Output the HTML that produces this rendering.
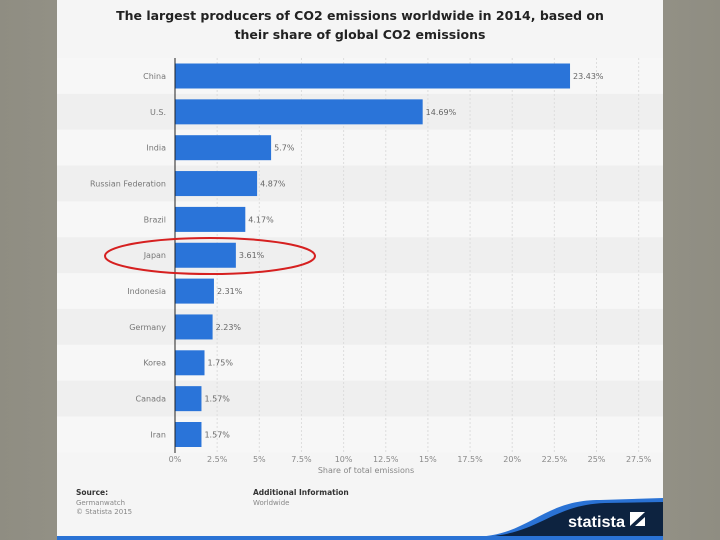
<!DOCTYPE html>
<html><head><meta charset="utf-8">
<style>
body{margin:0;width:720px;height:540px;overflow:hidden;background:linear-gradient(90deg,#8f8d82,#a3a196 50%,#8f8d82);font-family:"DejaVu Sans",sans-serif;}
#panel{position:absolute;left:57px;top:0;width:606px;height:540px;background:#f5f5f5;}
svg text{font-family:"DejaVu Sans",sans-serif;}
</style></head><body>
<div id="panel"></div>
<svg width="720" height="540" style="position:absolute;left:0;top:0">
<text x="360" y="20" text-anchor="middle" font-size="12.5" font-weight="bold" fill="#222">The largest producers of CO2 emissions worldwide in 2014, based on</text>
<text x="360" y="39" text-anchor="middle" font-size="12.5" font-weight="bold" fill="#222">their share of global CO2 emissions</text>
<g id="stripes"></g><g id="grid"></g><g id="bars"></g><g id="labels"></g><g id="xticks"></g>
<line x1="175" y1="58" x2="175" y2="453" stroke="#222" stroke-width="1"/>
<text x="366" y="473" text-anchor="middle" font-size="8" fill="#888">Share of total emissions</text>
<text x="76" y="495" font-size="7.5" font-weight="bold" fill="#333">Source:</text>
<text x="76" y="505" font-size="7" fill="#888">Germanwatch</text>
<text x="76" y="514" font-size="7" fill="#888">© Statista 2015</text>
<text x="253" y="495" font-size="7.5" font-weight="bold" fill="#333">Additional Information</text>
<text x="253" y="505" font-size="7" fill="#888">Worldwide</text>
<path d="M470 537 C530 537 540 500 600 500 L663 498 L663 537 Z" fill="#2a72d4"/>
<path d="M480 537 C540 535 550 505 605 503 L663 502 L663 537 Z" fill="#0d2340"/>
<rect x="57" y="536" width="606" height="4" fill="#2a72d4"/>
<text x="568" y="527" font-size="16" font-weight="bold" fill="#fff" textLength="57" lengthAdjust="spacingAndGlyphs" style="font-family:'Liberation Sans',sans-serif">statista</text>
<rect x="630" y="512" width="15" height="14" fill="#fff"/>
<path d="M630 526 L645 512 L645 517 L635 526 Z" fill="#0d2340"/>
<ellipse cx="210" cy="256" rx="105" ry="18" fill="none" stroke="#d62020" stroke-width="2"/>
</svg>
<script>
const categories=["China","U.S.","India","Russian Federation","Brazil","Japan","Indonesia","Germany","Korea","Canada","Iran"];
const values=[23.43,14.69,5.7,4.87,4.17,3.61,2.31,2.23,1.75,1.57,1.57];
const valueLabels=["23.43%","14.69%","5.7%","4.87%","4.17%","3.61%","2.31%","2.23%","1.75%","1.57%","1.57%"];
const ticks=[0,2.5,5,7.5,10,12.5,15,17.5,20,22.5,25,27.5];
const tickLabels=["0%","2.5%","5%","7.5%","10%","12.5%","15%","17.5%","20%","22.5%","25%","27.5%"];
const NS="http://www.w3.org/2000/svg";
const x=v=>175+v*16.86;
const rowTop=i=>58+i*35.85, rowH=35.85;
function mk(t,a,p){const e=document.createElementNS(NS,t);for(const k in a)e.setAttribute(k,a[k]);document.getElementById(p).appendChild(e);return e;}
categories.forEach((c,i)=>{
 const s=mk("rect",{x:57,y:rowTop(i),width:606,height:rowH,fill:i%2?"#efefef":"#f7f7f7"},"stripes");
 
 
 const b=mk("rect",{x:175,y:rowTop(i)+5.5,width:x(values[i])-175,height:25,fill:"#2a74d9"},"bars");
 
 
 const l=mk("text",{x:166,y:rowTop(i)+rowH/2+3,"text-anchor":"end","font-size":"8",fill:"#777"},"labels");
 l.textContent=c;
 
 
 const v=mk("text",{x:x(values[i])+3,y:rowTop(i)+rowH/2+3,"font-size":"8",fill:"#666"},"labels");
 v.textContent=valueLabels[i];
 
 
});
ticks.forEach((t,i)=>{
 if(t>0){const g=mk("line",{x1:x(t),y1:58,x2:x(t),y2:453,stroke:"#ddd","stroke-dasharray":"2,2"},"grid");
 
 }
 const tl=mk("text",{x:x(t),y:462,"text-anchor":"middle","font-size":"8",fill:"#888"},"xticks");
 tl.textContent=tickLabels[i];
 
 
});
</script>
</body></html>
